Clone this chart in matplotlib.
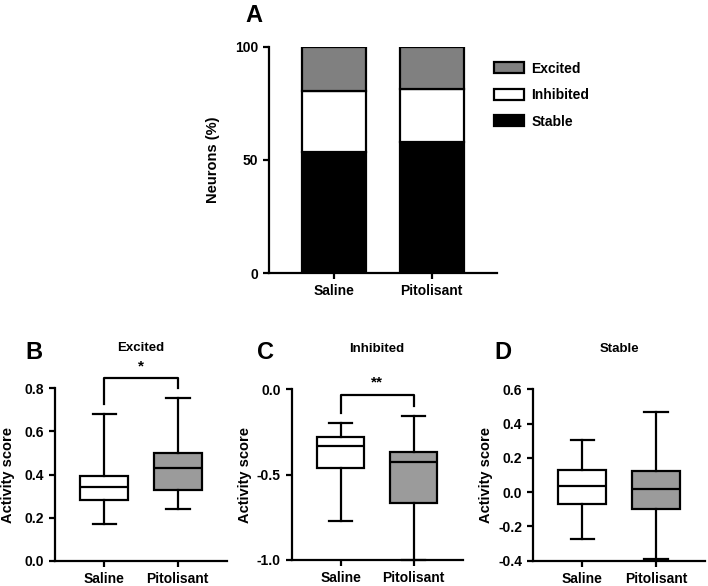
import numpy as np
import matplotlib
matplotlib.use("Agg")
import matplotlib.pyplot as plt
from matplotlib.patches import Patch

plt.rcParams['font.family'] = ['Liberation Sans', 'DejaVu Sans']
plt.rcParams['font.weight'] = 'bold'
plt.rcParams['axes.unicode_minus'] = False

groups = ['Saline', 'Pitolisant']

# panel A: % of neurons (stacked)
stable_pct = [53.5, 57.8]
inhibited_pct = [27.2, 23.6]
excited_pct = [19.3, 18.6]

# panels B-D: box stats [whislo, q1, med, q3, whishi]
excited_box = {'Saline': [0.169, 0.280, 0.343, 0.392, 0.681],
               'Pitolisant': [0.239, 0.327, 0.429, 0.499, 0.752]}
inhibited_box = {'Saline': [-0.771, -0.463, -0.332, -0.277, -0.199],
                 'Pitolisant': [-1.0, -0.668, -0.426, -0.365, -0.154]}
stable_box = {'Saline': [-0.276, -0.072, 0.035, 0.130, 0.302],
              'Pitolisant': [-0.389, -0.099, 0.021, 0.125, 0.469]}

LW = 1.6
GRAY_A = '#808080'
GRAY_BOX = '#9b9b9b'

fig = plt.figure(figsize=(7.08, 5.86), dpi=100)


def style_axes(ax):
    for s in ['top', 'right']:
        ax.spines[s].set_visible(False)
    for s in ['left', 'bottom']:
        ax.spines[s].set_linewidth(LW)
    ax.tick_params(width=LW, length=4.3, labelsize=10)
    ax.set_xlim(-0.67, 1.67)
    ax.set_xticks([0, 1])
    ax.set_xticklabels(groups, fontweight='bold')


# ---- A ----
axA = fig.add_axes([0.380, 0.534, 0.322, 0.386])
x = np.arange(len(groups))
bw = 0.66
axA.bar(x, stable_pct, bw, color='black', edgecolor='black', linewidth=LW)
axA.bar(x, inhibited_pct, bw, bottom=stable_pct, color='white',
        edgecolor='black', linewidth=LW)
bottom2 = np.array(stable_pct) + np.array(inhibited_pct)
axA.bar(x, excited_pct, bw, bottom=bottom2, color=GRAY_A,
        edgecolor='black', linewidth=LW)
style_axes(axA)
axA.set_ylim(0, 100)
axA.set_yticks([0, 50, 100])
axA.set_ylabel('Neurons (%)', fontsize=10.5, fontweight='bold')
axA.yaxis.set_label_coords(-0.215, 0.5)
handles = [Patch(facecolor=GRAY_A, edgecolor='black', linewidth=LW),
           Patch(facecolor='white', edgecolor='black', linewidth=LW),
           Patch(facecolor='black', edgecolor='black', linewidth=LW)]
axA.legend(handles, ['Excited', 'Inhibited', 'Stable'], loc='upper left',
           bbox_to_anchor=(0.985, 0.935), frameon=False, borderpad=0,
           borderaxespad=0, handlelength=2.2, handleheight=0.85,
           handletextpad=0.5, labelspacing=0.9,
           prop={'weight': 'bold', 'size': 10})
fig.text(254 / 708, 1 - 4 / 586, 'A', fontsize=17, fontweight='bold',
         ha='center', va='top')


def box_panel(rect, data, title, letter, letter_x, ylim, yticks, ylabels, sig=None):
    ax = fig.add_axes(rect)
    stats = []
    for g in groups:
        lo, q1, med, q3, hi = data[g]
        stats.append({'whislo': lo, 'q1': q1, 'med': med, 'q3': q3,
                      'whishi': hi, 'label': g, 'fliers': []})
    bp = ax.bxp(stats, positions=[0, 1], widths=0.65, patch_artist=True,
                showfliers=False, capwidths=0.32,
                boxprops={'linewidth': LW, 'edgecolor': 'black'},
                whiskerprops={'linewidth': LW},
                capprops={'linewidth': LW},
                medianprops={'linewidth': LW, 'color': 'black'})
    for patch, fc in zip(bp['boxes'], ['white', GRAY_BOX]):
        patch.set_facecolor(fc)
    for art in bp['whiskers'] + bp['caps']:
        art.set_clip_on(False)
    style_axes(ax)
    ax.set_ylim(*ylim)
    ax.set_yticks(yticks)
    ax.set_yticklabels(ylabels)
    ax.set_ylabel('Activity score', fontsize=10.5, fontweight='bold')
    ax.yaxis.set_label_coords(-0.235, 0.5)
    ax.set_title(title, fontsize=9.5, fontweight='bold', pad=27)
    if sig is not None:
        ybar, yleft, yright, stars = sig
        ax.plot([0, 0, 1, 1], [yleft, ybar, ybar, yright], color='black',
                linewidth=LW, clip_on=False)
        span = ylim[1] - ylim[0]
        ax.text(0.5, ybar + 0.03 * span, stars, ha='center', va='bottom',
                fontsize=11, fontweight='bold')
    fig.text(letter_x / 708, 1 - 341 / 586, letter, fontsize=17,
             fontweight='bold', ha='center', va='top')
    return ax


box_panel([0.0777, 0.0427, 0.243, 0.295], excited_box, 'Excited', 'B', 34,
          (0, 0.8), [0, 0.2, 0.4, 0.6, 0.8], ['0.0', '0.2', '0.4', '0.6', '0.8'],
          sig=(0.846, 0.727, 0.8, '*'))
box_panel([0.412, 0.0444, 0.2415, 0.2913], inhibited_box, 'Inhibited', 'C', 265,
          (-1.0, 0.0), [-1.0, -0.5, 0.0], ['-1.0', '-0.5', '0.0'],
          sig=(-0.033, -0.137, -0.098, '**'))
box_panel([0.753, 0.0432, 0.243, 0.2925], stable_box, 'Stable', 'D', 503,
          (-0.4, 0.6), [-0.4, -0.2, 0.0, 0.2, 0.4, 0.6],
          ['-0.4', '-0.2', '0.0', '0.2', '0.4', '0.6'])

fig.savefig('out.png', dpi=100)
